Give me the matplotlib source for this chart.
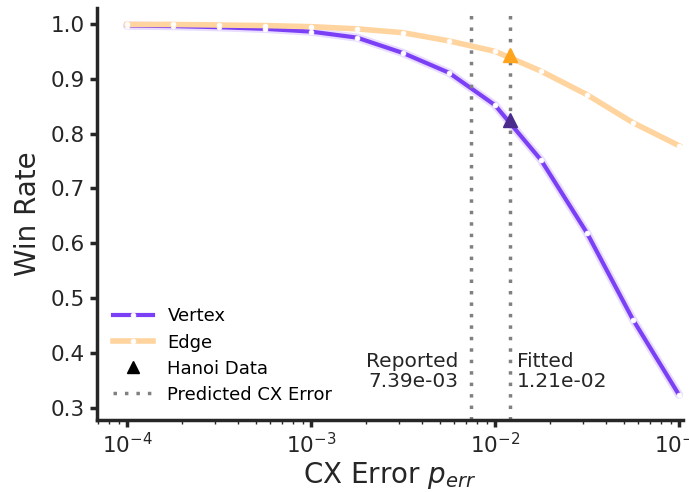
import numpy as np
import matplotlib
matplotlib.use("Agg")
import matplotlib.pyplot as plt

# data
cx_error = [10 ** (-4 + k / 4) for k in range(13)]
vertex_win = [0.997, 0.996, 0.994, 0.991, 0.986, 0.975, 0.947, 0.911, 0.852, 0.752, 0.619, 0.461, 0.324]
edge_win = [0.999, 0.999, 0.998, 0.997, 0.995, 0.991, 0.984, 0.969, 0.950, 0.914, 0.871, 0.820, 0.778]
reported_err = 7.39e-3
fitted_err = 1.21e-2
hanoi_vertex = 0.825
hanoi_edge = 0.944

purple = "#7B3FF5"
orange = "#FFD49E"
txt = "#262626"

fig = plt.figure(figsize=(6.89, 4.92), dpi=100)
ax = fig.add_axes([97 / 689, 1 - 420 / 492, (683 - 97) / 689, (420 - 8) / 492])

ax.plot(cx_error, vertex_win, color="#D9C6FF", lw=6, alpha=0.6, solid_capstyle="round")
ax.plot(cx_error, vertex_win, color=purple, lw=3, marker="o", ms=3.5, mfc="white",
        mec="white", mew=0.5, label="Vertex")
ax.plot(cx_error, edge_win, color=orange, lw=4, marker="o", ms=3.5, mfc="white",
        mec="white", mew=0.5, label="Edge")

ax.axvline(reported_err, color="#808080", ls=(0, (1, 2.3)), lw=2.5)
ax.axvline(fitted_err, color="#808080", ls=(0, (1, 2.3)), lw=2.5, label="Predicted CX Error")

ax.plot([fitted_err], [hanoi_edge], marker="^", color="#FFA41C", ms=10, ls="none", zorder=5)
ax.plot([fitted_err], [hanoi_vertex], marker="^", color="#4A2A8C", ms=10, ls="none", zorder=5)
ax.plot([], [], marker="^", color="black", ms=8, ls="none", label="Hanoi Data")

ax.text(reported_err * 0.86, 0.366, "Reported\n7.39e-03", ha="right", va="center", fontsize=14.5,
        color=txt, linespacing=1.05)
ax.text(fitted_err * 1.09, 0.366, "Fitted\n1.21e-02", ha="left", va="center", fontsize=14.5,
        color=txt, linespacing=1.05)

ax.set_xscale("log")
ax.set_xlim(10 ** -4.163, 10 ** -0.978)
ax.set_ylim(0.278, 1.029)
ax.set_yticks([0.3, 0.4, 0.5, 0.6, 0.7, 0.8, 0.9, 1.0])
ax.set_xticks([1e-4, 1e-3, 1e-2, 1e-1])

for s in ["top", "right"]:
    ax.spines[s].set_visible(False)
for s in ["left", "bottom"]:
    ax.spines[s].set_linewidth(2.5)
    ax.spines[s].set_color(txt)
ax.tick_params(axis="both", which="major", labelsize=15.5, width=2.5, length=5, colors=txt, pad=4)
ax.tick_params(axis="x", which="minor", width=1, length=3, colors=txt)

ax.set_ylabel("Win Rate", fontsize=20, color=txt, labelpad=6)
ax.set_xlabel("CX Error $p_{err}$", fontsize=20, color=txt, labelpad=2)

handles, labels = ax.get_legend_handles_labels()
order = [labels.index(l) for l in ["Vertex", "Edge", "Hanoi Data", "Predicted CX Error"]]
ax.legend([handles[i] for i in order], [labels[i] for i in order], loc="lower left",
          frameon=False, fontsize=13, bbox_to_anchor=(0.0, 0.0), handlelength=2.2,
          labelspacing=0.45, handletextpad=0.8)

fig.savefig("out.png", dpi=100)
